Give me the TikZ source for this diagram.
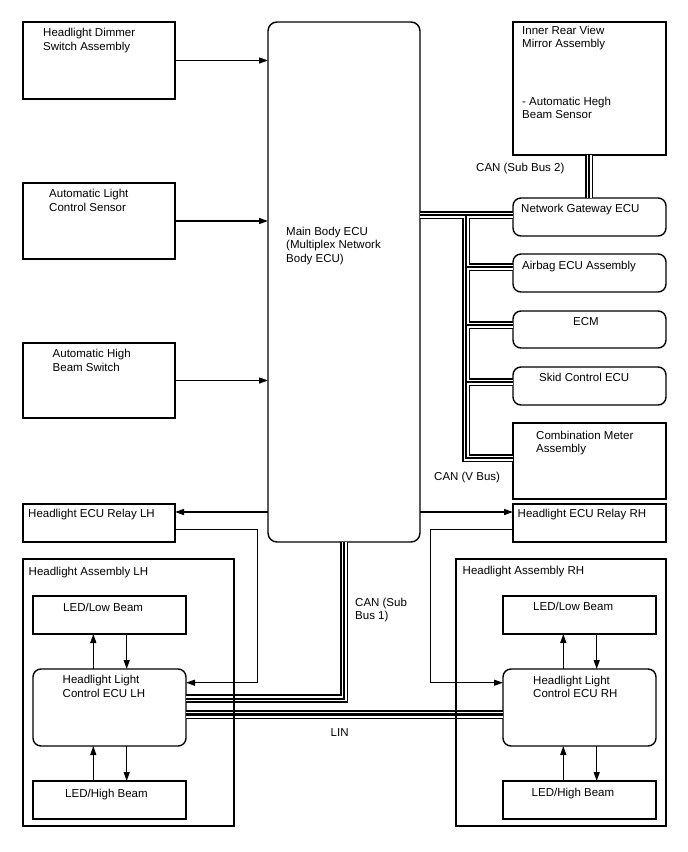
\documentclass[tikz,border=0pt]{standalone}
\usepackage{fontspec}
\setmainfont{Liberation Sans}
\usetikzlibrary{arrows.meta,calc}
\begin{document}
\begin{tikzpicture}[x=1pt,y=-1pt,
  box/.style={draw, line width=1.4pt, anchor=north west, inner sep=0pt, outer sep=0pt},
  rbox/.style={box, rounded corners=8pt},
  lbl/.style={anchor=base west, inner sep=0pt, font=\fontsize{11.5}{13.6}\selectfont},
  arr/.style={line width=1.3pt, -{Triangle[length=9pt,width=6pt]}},
  wire/.style={line width=1.4pt},
]
\useasboundingbox (0,0) rectangle (688,852);
\newcommand\lines[1]{\vtop{\halign{##\hfil\cr#1\crcr}}}

% ---------- boxes ----------
\node[box, minimum width=152pt, minimum height=77pt] (dimmer) at (23,22) {};
\node[box, minimum width=152pt, minimum height=76pt] (alcs) at (23,183) {};
\node[box, minimum width=152pt, minimum height=75pt] (ahbs) at (23,343) {};
\node[box, rounded corners=9pt, minimum width=152pt, minimum height=520pt] (main) at (268,22) {};
\node[box, minimum width=153pt, minimum height=133pt] (mirror) at (513,22) {};
\node[rbox, minimum width=153pt, minimum height=38pt] (gw) at (513,198) {};
\node[rbox, minimum width=153pt, minimum height=38pt] (airbag) at (513,254) {};
\node[rbox, minimum width=153pt, minimum height=37pt] (ecm) at (513,311) {};
\node[rbox, minimum width=153pt, minimum height=38pt] (skid) at (513,367) {};
\node[box, minimum width=153pt, minimum height=76pt] (combo) at (513,423) {};
\node[box, minimum width=153pt, minimum height=38pt] (relayR) at (513,504) {};
\node[box, minimum width=152pt, minimum height=38pt] (relayL) at (23,504) {};
\node[box, minimum width=211pt, minimum height=267pt] (asmL) at (23,559) {};
\node[box, minimum width=210pt, minimum height=267pt] (asmR) at (456,559) {};
\node[box, minimum width=153pt, minimum height=38pt] (lowL) at (33,596) {};
\node[rbox, minimum width=153pt, minimum height=77pt] (ecuL) at (33,669) {};
\node[box, minimum width=153pt, minimum height=38pt] (highL) at (33,781) {};
\node[box, minimum width=153pt, minimum height=38pt] (lowR) at (503,596) {};
\node[rbox, minimum width=153pt, minimum height=77pt] (ecuR) at (503,669) {};
\node[box, minimum width=153pt, minimum height=38pt] (highR) at (503,781) {};

% ---------- texts (anchor = baseline of first line) ----------
\node[lbl] (tdimmer) at (43,36.7) {\lines{Headlight Dimmer\cr Switch Assembly}};
\node[lbl] (talcs) at (49,197.7) {\lines{Automatic Light\cr Control Sensor}};
\node[lbl] (tahbs) at (52.5,357.7) {\lines{Automatic High\cr Beam Switch}};
\node[lbl] (tmain) at (286,235) {\lines{Main Body ECU\cr (Multiplex Network\cr Body ECU)}};
\node[lbl] (tmirror1) at (522,34) {\lines{Inner Rear View\cr Mirror Assembly}};
\node[lbl] (tmirror2) at (522,105) {\lines{- Automatic Hegh\cr Beam Sensor}};
\node[lbl] (tcan2) at (476,171) {CAN (Sub Bus 2)};
\node[lbl] (tgw) at (521,212) {Network Gateway ECU};
\node[lbl] (tairbag) at (522,269) {Airbag ECU Assembly};
\node[lbl] (tecm) at (573,325) {ECM};
\node[lbl] (tskid) at (539,381) {Skid Control ECU};
\node[lbl] (tcombo) at (536,439) {\lines{Combination Meter\cr Assembly}};
\node[lbl] (tcanv) at (434,480) {CAN (V Bus)};
\node[lbl] (trelayR) at (517.5,517) {Headlight ECU Relay RH};
\node[lbl] (trelayL) at (28,517.5) {Headlight ECU Relay LH};
\node[lbl] (tasmL) at (28.5,575) {Headlight Assembly LH};
\node[lbl] (tasmR) at (462.5,574) {Headlight Assembly RH};
\node[lbl] (tlowL) at (63,611) {LED/Low Beam};
\node[lbl] (tecuL) at (62.5,683.5) {\lines{Headlight Light\cr Control ECU LH}};
\node[lbl] (thighL) at (65,797.5) {LED/High Beam};
\node[lbl] (tlowR) at (533,610) {LED/Low Beam};
\node[lbl] (tecuR) at (533,684) {\lines{Headlight Light\cr Control ECU RH}};
\node[lbl] (thighR) at (531.5,796.5) {LED/High Beam};
\node[lbl] (tcan1) at (355,606) {\lines{CAN (Sub\cr Bus 1)}};
\node[lbl] (tlin) at (330.5,736) {LIN};

% ---------- simple arrows ----------
\draw[arr] (dimmer.east) -- (main.west |- dimmer.east);
\draw[arr] (alcs.east) -- (main.west |- alcs.east);
\draw[arr] (ahbs.east) -- (main.west |- ahbs.east);
\draw[arr] (main.west |- 0,512) -- (relayL.east |- 0,512);
\draw[arr] (main.east |- 0,512) -- (relayR.west |- 0,512);
\draw[arr] (relayL.east |- 0,529.5) -- (257.7,529.5) -- (257.7,682.7) -- (ecuL.east |- 0,682.7);
\draw[arr] (relayR.west |- 0,529.5) -- (430.7,529.5) -- (430.7,682.7) -- (ecuR.west |- 0,682.7);
% LED arrows LH
\draw[arr] (ecuL.north -| 93.3,0) -- (lowL.south -| 93.3,0);
\draw[arr] (lowL.south -| 126.7,0) -- (ecuL.north -| 126.7,0);
\draw[arr] (highL.north -| 93.3,0) -- (ecuL.south -| 93.3,0);
\draw[arr] (ecuL.south -| 126.7,0) -- (highL.north -| 126.7,0);
% LED arrows RH
\draw[arr] (ecuR.north -| 563.3,0) -- (lowR.south -| 563.3,0);
\draw[arr] (lowR.south -| 596.7,0) -- (ecuR.north -| 596.7,0);
\draw[arr] (highR.north -| 563.3,0) -- (ecuR.south -| 563.3,0);
\draw[arr] (ecuR.south -| 596.7,0) -- (highR.north -| 596.7,0);

% ---------- CAN buses (triple lines) ----------
\foreach \w/\c in {8.6pt/black, 5pt/white, 2pt/black} {
  \draw[line width=\w, \c] (main.east |- 0,215) -- (gw.west |- 0,215);
  \draw[line width=\w, \c, line join=miter] (466,215) -- (466,458) -- (combo.west |- 0,458);
  \draw[line width=\w, \c] (466,267) -- (airbag.west |- 0,267);
  \draw[line width=\w, \c] (466,325) -- (ecm.west |- 0,325);
  \draw[line width=\w, \c] (466,382) -- (skid.west |- 0,382);
  \draw[line width=\w, \c] (mirror.south -| 589,0) -- (gw.north -| 589,0);
  \draw[line width=\w, \c, line join=miter] (main.south -| 344,0) -- (344,698.5) -- (ecuL.east |- 0,698.5);
}
% ---------- LIN ----------
\foreach \w/\c in {9pt/black, 6pt/white, 3.6pt/black} {
  \draw[line width=\w, \c] (ecuL.east |- 0,714.5) -- (ecuR.west |- 0,714.5);
}
% assembly borders over buses
\draw[wire] (asmL.north east) -- (asmL.south east);
\draw[wire] (asmR.north west) -- (asmR.south west);
\end{tikzpicture}
\end{document}
